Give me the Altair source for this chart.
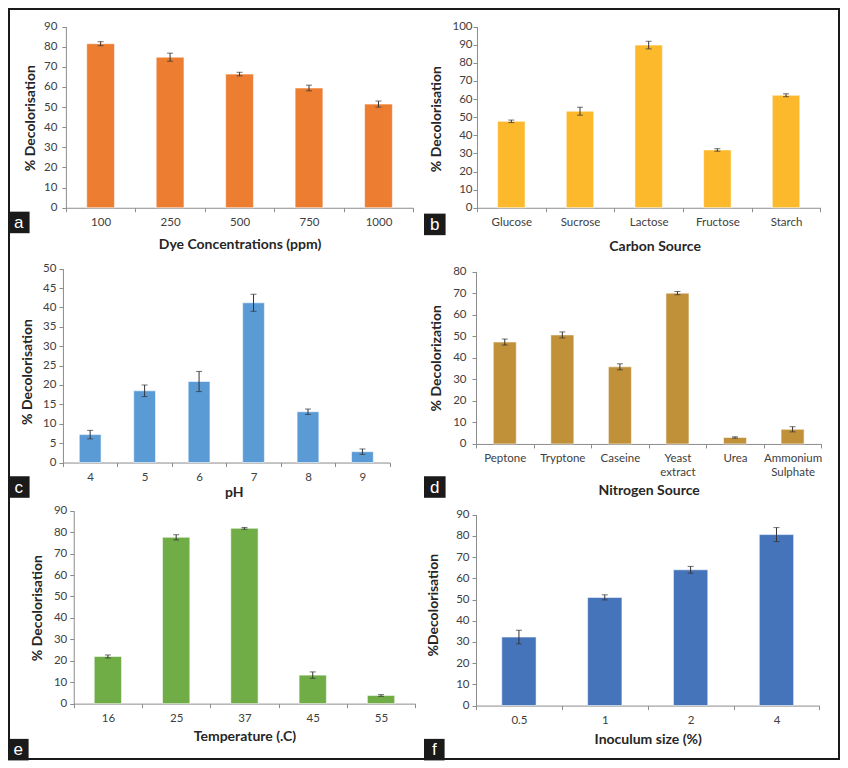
import altair as alt
import pandas as pd

# ---------------- data ----------------
dye_cats = ["100", "250", "500", "750", "1000"]
dye_vals = [81.5, 74.8, 66.4, 59.5, 51.5]
dye_errs = [1.0, 2.0, 0.9, 1.4, 1.5]

carbon_cats = ["Glucose", "Sucrose", "Lactose", "Fructose", "Starch"]
carbon_vals = [47.7, 53.3, 89.8, 31.9, 62.1]
carbon_errs = [0.7, 2.2, 2.1, 0.7, 0.8]

ph_cats = ["4", "5", "6", "7", "8", "9"]
ph_vals = [7.2, 18.5, 20.9, 41.2, 13.1, 2.8]
ph_errs = [1.1, 1.5, 2.6, 2.2, 0.7, 0.7]

nitro_cats = ["Peptone", "Tryptone", "Caseine", "Yeast extract", "Urea", "Ammonium Sulphate"]
nitro_vals = [47.3, 50.6, 35.8, 70.0, 3.0, 6.8]
nitro_errs = [1.4, 1.4, 1.4, 0.8, 0.3, 1.2]

temp_cats = ["16", "25", "37", "45", "55"]
temp_vals = [22.0, 77.6, 81.8, 13.3, 3.8]
temp_errs = [0.7, 1.2, 0.4, 1.5, 0.4]

inoc_cats = ["0.5", "1", "2", "4"]
inoc_vals = [32.3, 51.0, 64.0, 80.6]
inoc_errs = [3.2, 1.2, 1.6, 3.3]

# ---------------- layout (reference pixel geometry, scaled) ----------------
SX = 832 / 848
SY = 752 / 768
COL_X = [0, 424]
ROW_Y = [0, 250, 500]
ROW_H = [250, 250, 268]
CELL_W = 424 * SX

FONT = "Lato"
AXIS_GRAY = "#8c8c8c"
LABEL_COLOR = "#404040"
TITLE_COLOR = "#262626"


def panel(cats, vals, errs, ymax, ystep, xtitle, ytitle, letter, color,
          col, row, plot, ytpos, xtpos, lblpad, box, frame=False):
    cx, cy = COL_X[col], ROW_Y[row]
    H = ROW_H[row] * SY
    x0, x1, yb, yt = plot
    xa, xb = (x0 - cx) * SX, (x1 - cx) * SX
    ya, yb_c = (yt - cy) * SY, (yb - cy) * SY

    df = pd.DataFrame({"cat": cats, "val": vals, "err": errs})
    df["lo"] = df["val"] - df["err"]
    df["hi"] = df["val"] + df["err"]

    xaxis = alt.Axis(
        title=xtitle, labelAngle=0, tickBand="extent", tickSize=4,
        tickColor=AXIS_GRAY, domainColor=AXIS_GRAY, labelColor=LABEL_COLOR,
        labelFont=FONT, labelFontSize=11.5, labelPadding=4.5,
        labelExpr="split(datum.label, ' ')", labelLineHeight=14,
        titleFont=FONT, titleFontSize=14, titleFontWeight="bold",
        titleColor=TITLE_COLOR, titleBaseline="middle", titleAlign="center",
        titleX=(xtpos[0] - cx) * SX, titleY=(xtpos[1] - yb) * SY,
        offset=yb_c - H, labelLimit=200,
    )
    yaxis = alt.Axis(
        title=ytitle, values=list(range(0, ymax + 1, ystep)), tickSize=4,
        tickColor=AXIS_GRAY, domainColor=AXIS_GRAY, labelColor=LABEL_COLOR,
        labelFont=FONT, labelFontSize=11.5, labelPadding=lblpad,
        labelOverlap=False, grid=False,
        titleFont=FONT, titleFontSize=14, titleFontWeight="bold",
        titleColor=TITLE_COLOR, titleBaseline="middle", titleAlign="center",
        titleAngle=270,
        titleX=(ytpos[0] - x0) * SX, titleY=(ytpos[1] - cy) * SY,
        offset=-xa,
    )
    xs = alt.Scale(range=[xa, xb], paddingInner=0, paddingOuter=0)
    ys = alt.Scale(domain=[0, ymax], range=[yb_c, ya], nice=False, zero=True)

    X = alt.X("cat:N", sort=cats, scale=xs, axis=xaxis)
    base = alt.Chart(df)
    bars = base.mark_bar(width={"band": 0.4}, color=color, stroke="white",
                         strokeOpacity=0.55, strokeWidth=1).encode(
        x=X, y=alt.Y("val:Q", scale=ys, axis=yaxis))
    rule = base.mark_rule(color="#333333", strokeWidth=1).encode(
        x=X, y=alt.Y("lo:Q", scale=ys, axis=yaxis), y2="hi:Q")
    cap_hi = base.mark_tick(color="#333333", size=6, thickness=1).encode(
        x=X, y=alt.Y("hi:Q", scale=ys, axis=yaxis))
    cap_lo = base.mark_tick(color="#333333", size=6, thickness=1).encode(
        x=X, y=alt.Y("lo:Q", scale=ys, axis=yaxis))

    bx0, by0, bx1, by1 = box
    lab = alt.Chart(pd.DataFrame({"t": [letter]}))
    lbox = lab.mark_rect(color="#1a1a1a").encode(
        x=alt.value((bx0 - cx) * SX), x2=alt.value((bx1 - cx) * SX),
        y=alt.value((by0 - cy) * SY), y2=alt.value((by1 - cy) * SY))
    ltxt = lab.mark_text(color="white", font="Liberation Sans", fontSize=17,
                         align="center", baseline="middle").encode(
        x=alt.value(((bx0 + bx1) / 2 - cx) * SX),
        y=alt.value(((by0 + by1) / 2 - cy) * SY + 0.5),
        text="t:N")

    layers = [bars, rule, cap_hi, cap_lo, lbox, ltxt]
    if frame:
        fr = lab.mark_rect(filled=False, color="#1a1a1a", strokeWidth=2).encode(
            x=alt.value(1), x2=alt.value(831), y=alt.value(1), y2=alt.value(751))
        layers.append(fr)
    return alt.layer(*layers).properties(width=CELL_W, height=H)


pa = panel(dye_cats, dye_vals, dye_errs, 90, 10, "Dye Concentrations (ppm)",
           "% Decolorisation", "a", "#ED7D31", 0, 0, (59, 413, 204, 19),
           (23, 112), (236, 242), 5, (0, 208, 22, 230), frame=True)
pb = panel(carbon_cats, carbon_vals, carbon_errs, 100, 10, "Carbon Source",
           "% Decolorisation", "b", "#FDB92C", 1, 0, (478, 828, 204, 19),
           (437, 113), (659, 244), 1, (424, 210, 446, 232))
pc = panel(ph_cats, ph_vals, ph_errs, 50, 5, "pH",
           "% Decolorisation", "c", "#5B9BD5", 0, 1, (56, 389, 464, 266),
           (20, 371), (230, 495), 3, (0, 478, 22, 500))
pd_ = panel(nitro_cats, nitro_vals, nitro_errs, 80, 10, "Nitrogen Source",
            "% Decolorization", "d", "#C1913A", 1, 1, (477, 829, 445, 269),
            (437, 357), (653, 493), 6, (424, 478, 446, 500))
pe = panel(temp_cats, temp_vals, temp_errs, 90, 10, "Temperature (.C)",
           "% Decolorisation", "e", "#70AD47", 0, 2, (67, 415, 710, 513),
           (30, 612), (241, 744), 3, (0, 746, 21, 768))
pf = panel(inoc_cats, inoc_vals, inoc_errs, 90, 10, "Inoculum size (%)",
           "%Decolorisation", "f", "#4674BA", 1, 2, (477, 827, 712, 517),
           (434, 609), (652, 747), 3, (424, 746, 445, 768))

chart = alt.concat(pa, pb, pc, pd_, pe, pf, columns=2, spacing=0,
                   bounds="flush").properties(
    padding=0, background="white").configure_view(
    stroke="transparent", strokeWidth=0)

chart.save("out.html", embed_options={"renderer": "svg", "actions": False})
